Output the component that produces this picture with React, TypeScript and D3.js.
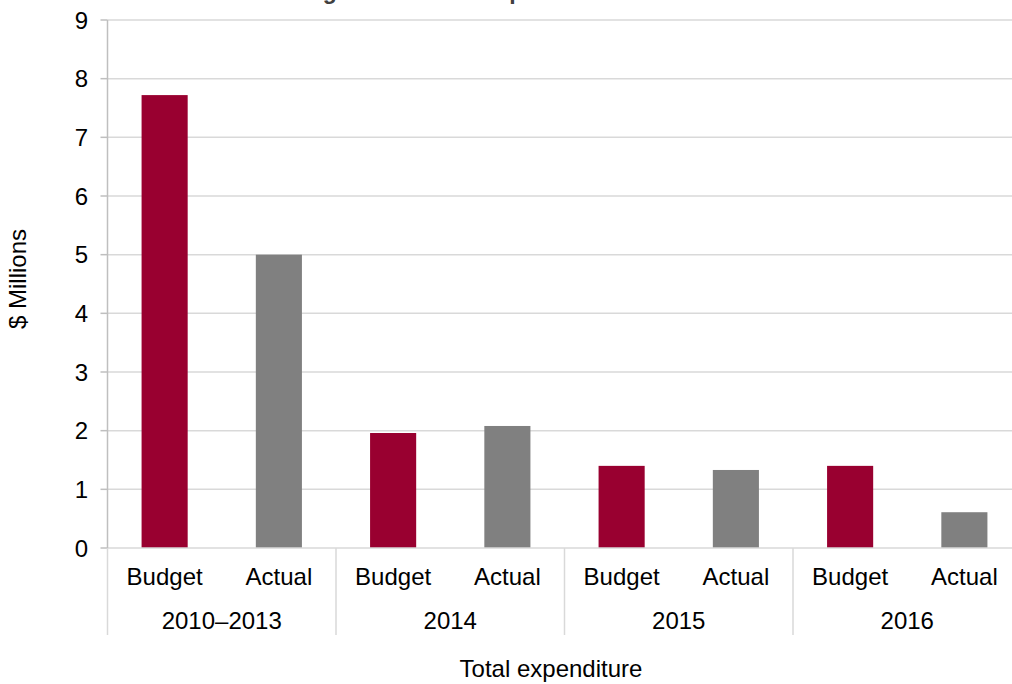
import React from "react";
import * as d3 from "d3";

const groups = ["2010–2013", "2014", "2015", "2016"];
const seriesNames = ["Budget", "Actual"];
const budgetValues = [7.72, 1.96, 1.4, 1.4];
const actualValues = [5.0, 2.08, 1.33, 0.61];
const yTicks = [0, 1, 2, 3, 4, 5, 6, 7, 8, 9];
const colors = ["#990030", "#808080"];
const titleText = "Budget and actual expenditure";
const xTitle = "Total expenditure";
const yTitle = "$ Millions";

export default function App() {
  const W = 1012, H = 684;
  const x0 = 107.5, x1 = 1021.5, yTop = 20, yBot = 548;
  const y = d3.scaleLinear().domain([0, 9]).range([yBot, yTop]);
  const gx = d3.scaleBand<string>().domain(groups).range([x0, x1]).padding(0);
  const p = 0.5965;
  const sx = d3.scaleBand<string>().domain(seriesNames).range([0, gx.bandwidth()]).paddingInner(p).paddingOuter(p / 2);
  const font = "'Liberation Sans', Arial, sans-serif";
  const fs = 24;
  const data = [budgetValues, actualValues];
  return (
    <svg width={W} height={H} style={{ position: "absolute", left: 0, top: 0, background: "#fff" }} fontFamily={font}>
      <text x={446} y={-1.5} textAnchor="middle" fontSize={23} fontWeight="bold" fill="#404040">{titleText}</text>
      {yTicks.map((t) => (
        <g key={t}>
          {t > 0 && <line x1={x0} x2={W} y1={y(t)} y2={y(t)} stroke="#d9d9d9" strokeWidth={1.5} />}
          <line x1={x0 - 7} x2={x0} y1={y(t)} y2={y(t)} stroke="#bfbfbf" strokeWidth={1.5} />
          <text x={88} y={y(t)} dy="0.36em" textAnchor="end" fontSize={fs} fill="#000">{t}</text>
        </g>
      ))}
      {groups.map((g, gi) =>
        seriesNames.map((s, si) => {
          const v = data[si][gi];
          return (
            <rect key={g + s} x={(gx(g) as number) + (sx(s) as number)} width={sx.bandwidth()} y={y(v)} height={y(0) - y(v)} fill={colors[si]} />
          );
        })
      )}
      <line x1={x0} x2={W} y1={yBot} y2={yBot} stroke="#d9d9d9" strokeWidth={1.5} />
      <line x1={x0} x2={x0} y1={yTop} y2={yBot} stroke="#bfbfbf" strokeWidth={1.5} />
      {groups.map((g) => (
        <g key={g}>
          <line x1={gx(g) as number} x2={gx(g) as number} y1={yBot} y2={635} stroke="#d9d9d9" strokeWidth={1.5} />
          {seriesNames.map((s) => (
            <text key={s} x={(gx(g) as number) + (sx(s) as number) + sx.bandwidth() / 2} y={585} textAnchor="middle" fontSize={fs} fill="#000">{s}</text>
          ))}
          <text x={(gx(g) as number) + gx.bandwidth() / 2} y={629} textAnchor="middle" fontSize={fs} fill="#000">{g}</text>
        </g>
      ))}
      <text x={551} y={677} textAnchor="middle" fontSize={fs} fill="#000">{xTitle}</text>
      <text transform="translate(26,279) rotate(-90)" textAnchor="middle" fontSize={fs} fill="#000">{yTitle}</text>
    </svg>
  );
}
